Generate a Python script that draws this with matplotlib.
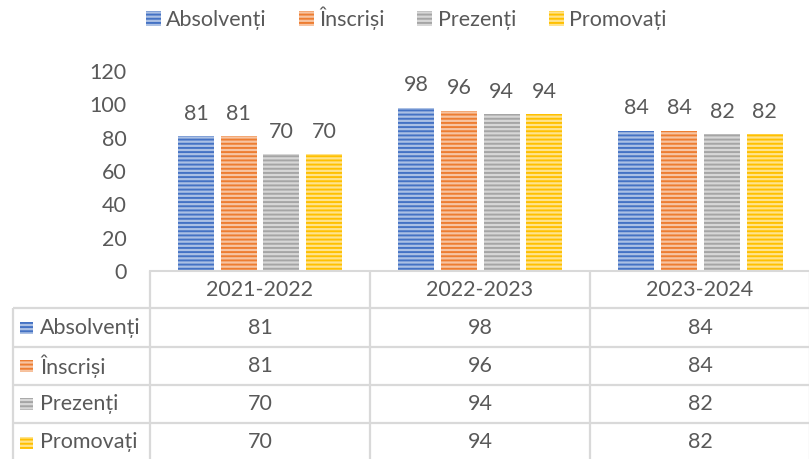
import matplotlib
matplotlib.use("Agg")
import matplotlib.pyplot as plt
import matplotlib.patches as mpatches
from matplotlib.colors import to_rgb
import numpy as np

categories = ["2021-2022", "2022-2023", "2023-2024"]
series_names = ["Absolvenți", "Înscriși", "Prezenți", "Promovați"]
absolventi = [81, 98, 84]
inscrisi = [81, 96, 84]
prezenti = [70, 94, 82]
promovati = [70, 94, 82]
series_values = [absolventi, inscrisi, prezenti, promovati]
y_ticks = [0, 20, 40, 60, 80, 100, 120]

colors = ["#4472C4", "#ED7D31", "#A5A5A5", "#FFC000"]
TXT = "#595959"
GRID = "#D9D9D9"
FAM = ["Lato", "DejaVu Sans"]
FS = 15.5

plt.rcParams['font.family'] = FAM
plt.rcParams['hatch.linewidth'] = 1.4

W, H = 809, 459
fig = plt.figure(figsize=(W / 100, H / 100), dpi=100)

def light(c, f=0.55):
    r, g, b = to_rgb(c)
    return (r + (1 - r) * f, g + (1 - g) * f, b + (1 - b) * f)

# main axes
ax = fig.add_axes([150 / W, 1 - 271 / H, (W - 150) / W + 0.002, (271 - 71) / H])
x = np.arange(len(categories))
bw = 36 / 220
step = 42.7 / 220
for i, (name, vals) in enumerate(zip(series_names, series_values)):
    pos = x + (i - 1.5) * step
    bars = ax.bar(pos, vals, width=bw, facecolor=light(colors[i]), edgecolor=colors[i],
                  hatch='----', linewidth=0)
    for b, v in zip(bars, vals):
        ax.annotate(str(v), (b.get_x() + b.get_width() / 2, v), xytext=(0, 9),
                    textcoords='offset points', ha='center', va='bottom',
                    fontsize=FS, color=TXT)

ax.set_xlim(-0.5, 2.5)
ax.set_ylim(0, 120)
ax.set_yticks(y_ticks)
ax.set_xticks([])
ax.tick_params(axis='y', length=0, pad=17, labelsize=FS, labelcolor=TXT)
for s in ['left', 'right', 'top']:
    ax.spines[s].set_visible(False)
ax.spines['bottom'].set_color(GRID)
ax.spines['bottom'].set_linewidth(1.5)
ax.patch.set_alpha(0)

# legend
handles = [mpatches.Patch(facecolor=light(c), edgecolor=c, hatch='----', linewidth=0)
           for c in colors]
fig.legend(handles, series_names, loc='center', bbox_to_anchor=(0.502, 1 - 18 / H),
           ncol=4, frameon=False, fontsize=FS, labelcolor=TXT, handlelength=0.7,
           handleheight=0.7, handletextpad=0.25, columnspacing=1.5)

# data table (pixel coordinate axes)
tax = fig.add_axes([0, 0, 1, 1])
tax.set_xlim(0, W)
tax.set_ylim(H, 0)
tax.axis('off')
tax.patch.set_alpha(0)

col_edges = [150, 370, 590, 810]
row_edges = [271, 308, 347, 385, 423, 462]
lw = 1.6
for xe in col_edges:
    tax.plot([xe, xe], [271, 462], color=GRID, lw=lw, solid_capstyle='butt')
tax.plot([13, 13], [308, 462], color=GRID, lw=lw, solid_capstyle='butt')
for ye in row_edges[1:]:
    tax.plot([13, 810], [ye, ye], color=GRID, lw=lw, solid_capstyle='butt')

for j, cat in enumerate(categories):
    cx = (col_edges[j] + col_edges[j + 1]) / 2
    tax.text(cx, (row_edges[0] + row_edges[1]) / 2 + 1, cat, ha='center', va='center',
             fontsize=FS, color=TXT)
    for i, vals in enumerate(series_values):
        cy = (row_edges[i + 1] + row_edges[i + 2]) / 2
        tax.text(cx, cy, str(vals[j]), ha='center', va='center', fontsize=FS, color=TXT)

for i, name in enumerate(series_names):
    cy = (row_edges[i + 1] + row_edges[i + 2]) / 2
    tax.add_patch(mpatches.Rectangle((20, cy - 6), 13, 12, facecolor=light(colors[i]),
                                     edgecolor=colors[i], hatch='----', linewidth=0))
    tax.text(40, cy, name, ha='left', va='center', fontsize=FS, color=TXT)

fig.savefig("out.png", dpi=100)
